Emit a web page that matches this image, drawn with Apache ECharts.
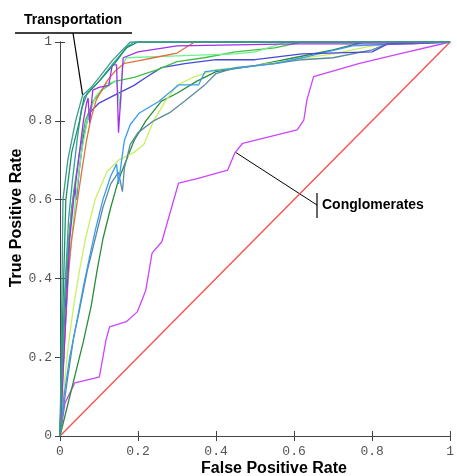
<!DOCTYPE html>
<html>
<head>
<meta charset="utf-8">
<script src="https://cdn.jsdelivr.net/npm/echarts@6/dist/echarts.min.js"></script>
<style>
  html, body { margin: 0; padding: 0; background: #fff; }
  #chart { width: 457px; height: 476px; }
</style>
</head>
<body>
<div id="chart"></div>
<script>
// axis ticks
const xTicks = [0, 0.2, 0.4, 0.6, 0.8, 1];
const yTicks = [0, 0.2, 0.4, 0.6, 0.8, 1];

// ROC curves, [false positive rate, true positive rate]
const tealCurve = [[0,0],[0.003,0.2],[0.0076,0.6],[0.02,0.7],[0.04,0.8],[0.058,0.865],[0.08,0.885],[0.101,0.911],[0.135,0.954],[0.18,1],[1,1]];
const greenTealCurve = [[0,0],[0.004,0.2],[0.015,0.6],[0.03,0.72],[0.05,0.8],[0.062,0.86],[0.1,0.9],[0.14,0.945],[0.17,0.985],[0.2,1],[1,1]];
const cyanCurve = [[0,0],[0.006,0.2],[0.014,0.4],[0.022,0.55],[0.032,0.65],[0.045,0.76],[0.055,0.83],[0.07,0.87],[0.1,0.9],[0.14,0.95],[0.175,0.99],[0.19,1],[1,1]];
const purpleCurve = [[0,0],[0.005,0.1],[0.015,0.3],[0.025,0.5],[0.035,0.6],[0.05,0.72],[0.06,0.8],[0.068,0.845],[0.072,0.858],[0.076,0.795],[0.084,0.878],[0.1,0.885],[0.125,0.89],[0.134,0.942],[0.145,0.942],[0.15,0.77],[0.162,0.96],[0.2,0.975],[0.3,0.99],[0.6,0.995],[0.9,0.995],[1,1]];
const orangeCurve = [[0,0],[0.005,0.1],[0.012,0.25],[0.02,0.4],[0.03,0.5],[0.045,0.6],[0.055,0.667],[0.068,0.75],[0.078,0.8],[0.093,0.853],[0.12,0.9],[0.14,0.925],[0.165,0.946],[0.2,0.952],[0.24,0.96],[0.3,0.972],[0.345,1],[1,1]];
const lightGreenCurve = [[0,0],[0.005,0.12],[0.015,0.3],[0.025,0.45],[0.04,0.6],[0.055,0.72],[0.07,0.8],[0.09,0.86],[0.12,0.895],[0.145,0.9],[0.155,0.83],[0.16,0.94],[0.17,0.96],[0.3,0.965],[0.45,0.97],[0.5,0.975],[0.58,1],[1,1]];
const greenCurve = [[0,0],[0.004,0.15],[0.012,0.35],[0.022,0.5],[0.035,0.62],[0.05,0.72],[0.065,0.8],[0.085,0.85],[0.11,0.88],[0.14,0.9],[0.19,0.91],[0.25,0.93],[0.3,0.95],[0.37,0.96],[0.45,0.975],[0.55,0.985],[0.62,1],[1,1]];
const blueCurve = [[0,0],[0.005,0.15],[0.012,0.3],[0.02,0.45],[0.03,0.58],[0.038,0.63],[0.042,0.6],[0.05,0.68],[0.06,0.76],[0.075,0.82],[0.1,0.845],[0.14,0.865],[0.19,0.89],[0.22,0.91],[0.26,0.935],[0.32,0.945],[0.4,0.955],[0.5,0.955],[0.62,0.97],[0.8,0.975],[0.84,0.995],[1,1]];
const lightBlueCurve = [[0,0],[0.01,0.1],[0.025,0.2],[0.045,0.3],[0.06,0.38],[0.075,0.45],[0.09,0.52],[0.11,0.6],[0.13,0.66],[0.145,0.69],[0.15,0.64],[0.158,0.7],[0.165,0.75],[0.18,0.79],[0.2025,0.819],[0.253,0.849],[0.304,0.891],[0.355,0.891],[0.372,0.925],[0.481,0.937],[0.55,0.945],[0.62,0.96],[0.75,0.99],[1,1]];
const steelCurve = [[0,0],[0.01,0.08],[0.02,0.15],[0.035,0.25],[0.05,0.32],[0.07,0.42],[0.09,0.5],[0.11,0.58],[0.13,0.64],[0.15,0.67],[0.16,0.62],[0.165,0.68],[0.18,0.74],[0.2,0.77],[0.24,0.8],[0.28,0.82],[0.32,0.85],[0.37,0.89],[0.4,0.92],[0.45,0.935],[0.55,0.945],[0.62,0.955],[0.7,0.96],[0.8,0.98],[0.85,1],[1,1]];
const yellowGreenCurve = [[0,0],[0.008,0.1],[0.02,0.22],[0.035,0.33],[0.05,0.42],[0.065,0.5],[0.09,0.6],[0.12,0.67],[0.15,0.7],[0.19,0.72],[0.215,0.74],[0.24,0.8],[0.27,0.85],[0.3,0.89],[0.34,0.91],[0.4,0.93],[0.5,0.94],[0.6,0.955],[0.7,0.97],[0.8,0.99],[0.9,1],[1,1]];
const darkGreenCurve = [[0,0],[0.02,0.08],[0.04,0.16],[0.06,0.24],[0.08,0.33],[0.095,0.42],[0.11,0.5],[0.13,0.58],[0.15,0.65],[0.17,0.7],[0.19,0.75],[0.22,0.8],[0.26,0.85],[0.3,0.87],[0.35,0.9],[0.4,0.925],[0.5,0.94],[0.6,0.96],[0.7,0.98],[0.78,1],[1,1]];
const conglomeratesCurve = [[0,0],[0.013,0.084],[0.038,0.135],[0.089,0.147],[0.101,0.15],[0.118,0.244],[0.127,0.277],[0.17,0.29],[0.198,0.315],[0.22,0.37],[0.236,0.464],[0.261,0.493],[0.266,0.497],[0.304,0.642],[0.354,0.654],[0.43,0.675],[0.448,0.718],[0.468,0.743],[0.608,0.777],[0.625,0.802],[0.633,0.853],[0.65,0.912],[0.768,0.946],[0.878,0.972],[1,1]];
const chanceLine = [[0,0],[1,1]];

// annotation targets
const transportPoint = [0.058, 0.865];
const conglomPoint = [0.45, 0.72];

const curves = [
  { data: chanceLine, color: "#ff4a4a" },
  { data: conglomeratesCurve, color: "#cc44ff" },
  { data: darkGreenCurve, color: "#2a8c3a" },
  { data: yellowGreenCurve, color: "#c8f060" },
  { data: steelCurve, color: "#5a8a9c" },
  { data: lightBlueCurve, color: "#3a9cf0" },
  { data: blueCurve, color: "#4848d8" },
  { data: greenCurve, color: "#40c040" },
  { data: lightGreenCurve, color: "#70f090" },
  { data: orangeCurve, color: "#e0703e" },
  { data: purpleCurve, color: "#a030e8" },
  { data: cyanCurve, color: "#30a0a8" },
  { data: greenTealCurve, color: "#20906a" },
  { data: tealCurve, color: "#3a9e8a" },
];

const chart = echarts.init(document.getElementById("chart"));

const tickFont = { fontFamily: "'Liberation Mono', 'DejaVu Sans Mono', monospace", fontSize: 13, color: "#555" };
const axisBase = {
  type: "value",
  min: 0,
  max: 1,
  interval: 0.2,
  axisLine: { show: true, lineStyle: { color: "#444", width: 1 } },
  axisTick: { show: true, inside: true, length: 5, lineStyle: { color: "#444" } },
  splitLine: { show: false },
};

chart.setOption({
  animation: false,
  grid: { left: 60, right: 2, top: 42, bottom: 40 },
  xAxis: [
    { ...axisBase, position: "bottom", axisLabel: { ...tickFont, margin: 9, formatter: (v) => xTicks.includes(v) ? String(v) : "" } },
    { ...axisBase, position: "top", axisLabel: { show: false } },
  ],
  yAxis: [
    { ...axisBase, position: "left", axisLabel: { ...tickFont, margin: 8, formatter: (v) => yTicks.includes(v) ? String(v) : "" } },
    { ...axisBase, position: "right", axisLabel: { show: false } },
  ],
  series: curves.map((c) => ({
    type: "line",
    data: c.data,
    showSymbol: false,
    symbol: "none",
    lineStyle: { color: c.color, width: 1.3 },
    xAxisIndex: 0,
    yAxisIndex: 0,
  })),
});

// labels and leader lines
const tp = chart.convertToPixel({ gridIndex: 0 }, transportPoint);
const cp = chart.convertToPixel({ gridIndex: 0 }, conglomPoint);
const titleFont = "bold 16px 'Liberation Sans', Arial, sans-serif";
const noteFont = "bold 14px 'Liberation Sans', Arial, sans-serif";

chart.setOption({
  graphic: [
    { type: "text", x: 274, y: 469, style: { text: "False Positive Rate", font: titleFont, fill: "#000", textAlign: "center", textVerticalAlign: "middle" } },
    { type: "text", x: 17, y: 218, rotation: Math.PI / 2, style: { text: "True Positive Rate", font: titleFont, fill: "#000", textAlign: "center", textVerticalAlign: "middle" } },
    { type: "text", x: 24, y: 20, style: { text: "Transportation", font: noteFont, fill: "#000", textVerticalAlign: "middle" } },
    { type: "line", shape: { x1: 15, y1: 33, x2: 132, y2: 33 }, style: { stroke: "#000", lineWidth: 1.5 } },
    { type: "line", shape: { x1: 73, y1: 33, x2: tp[0], y2: tp[1] }, style: { stroke: "#000", lineWidth: 1.2 } },
    { type: "text", x: 322, y: 205, style: { text: "Conglomerates", font: noteFont, fill: "#000", textVerticalAlign: "middle" } },
    { type: "line", shape: { x1: 317, y1: 193, x2: 317, y2: 218 }, style: { stroke: "#000", lineWidth: 1.2 } },
    { type: "line", shape: { x1: 317, y1: 205, x2: cp[0], y2: cp[1] }, style: { stroke: "#000", lineWidth: 1 } },
  ],
});
</script>
</body>
</html>
